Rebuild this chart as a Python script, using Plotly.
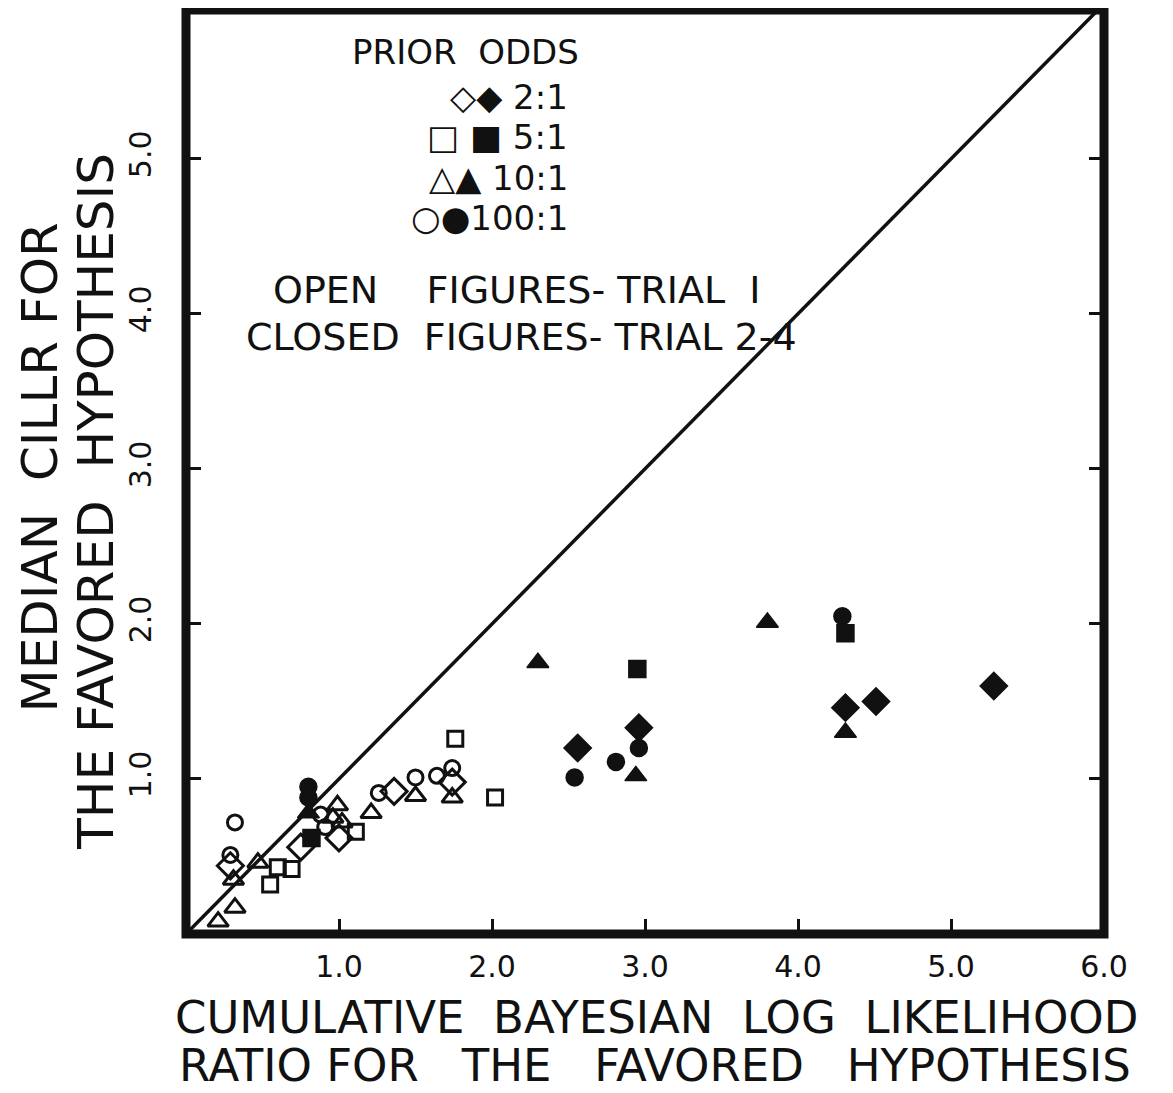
import plotly.graph_objects as go

FONT = "DejaVu Sans"
INK = "#111111"

# Trial 1 (open figures)
open_diamond_x = [0.29, 0.75, 1.00, 1.36, 1.74]
open_diamond_y = [0.44, 0.56, 0.62, 0.92, 0.98]

open_square_x = [0.55, 0.60, 0.69, 1.11, 1.76, 2.02]
open_square_y = [0.32, 0.43, 0.42, 0.66, 1.26, 0.88]

open_triangle_x = [0.21, 0.32, 0.31, 0.47, 0.96, 0.99, 1.02, 1.21, 1.50, 1.74]
open_triangle_y = [0.08, 0.17, 0.35, 0.46, 0.75, 0.83, 0.72, 0.78, 0.89, 0.88]

open_circle_x = [0.32, 0.29, 0.88, 0.91, 1.26, 1.50, 1.64, 1.74]
open_circle_y = [0.72, 0.51, 0.77, 0.69, 0.91, 1.01, 1.02, 1.07]

# Trials 2-4 (closed figures)
closed_diamond_x = [2.56, 2.96, 4.31, 4.51, 5.28]
closed_diamond_y = [1.20, 1.33, 1.46, 1.50, 1.60]

closed_square_x = [0.82, 2.95, 4.31]
closed_square_y = [0.62, 1.71, 1.94]

closed_triangle_x = [0.80, 2.30, 2.94, 3.80, 4.31]
closed_triangle_y = [0.78, 1.75, 1.02, 2.01, 1.30]

closed_circle_x = [0.80, 0.80, 2.54, 2.81, 2.96, 4.29]
closed_circle_y = [0.95, 0.88, 1.01, 1.11, 1.20, 2.05]

# identity line
line_x = [0, 6]
line_y = [0, 6]

tick_vals_x = [1, 2, 3, 4, 5, 6]
tick_text_x = ["1.0", "2.0", "3.0", "4.0", "5.0", "6.0"]
tick_vals_y = [1, 2, 3, 4, 5]
tick_text_y = ["1.0", "2.0", "3.0", "4.0", "5.0"]

fig = go.Figure()

fig.add_trace(go.Scatter(x=line_x, y=line_y, mode="lines",
                         line=dict(color=INK, width=3.5), hoverinfo="skip"))

def add_points(xs, ys, symbol, size, filled):
    if filled:
        marker = dict(symbol=symbol, size=size, color=INK, line=dict(color=INK, width=1.5))
    else:
        marker = dict(symbol=symbol + "-open", size=size, color=INK, line=dict(color=INK, width=3))
    fig.add_trace(go.Scatter(x=xs, y=ys, mode="markers", marker=marker))

add_points(open_diamond_x, open_diamond_y, "diamond", 20, False)
add_points(open_square_x, open_square_y, "square", 15, False)
add_points(open_triangle_x, open_triangle_y, "triangle-up", 18, False)
add_points(open_circle_x, open_circle_y, "circle", 15, False)
add_points(closed_diamond_x, closed_diamond_y, "diamond", 21, True)
add_points(closed_square_x, closed_square_y, "square", 17, True)
add_points(closed_triangle_x, closed_triangle_y, "triangle-up", 19, True)
add_points(closed_circle_x, closed_circle_y, "circle", 17, True)

# in-plot key, written as text
key_rows = ["◇◆ 2:1", "□ ■ 5:1", "△▲ 10:1", "○●100:1"]
key_y = [0.906, 0.863, 0.818, 0.775]

ann = [dict(text="PRIOR  ODDS", x=0.304, y=0.955, font=dict(size=34))]
for txt, yy in zip(key_rows, key_y):
    ann.append(dict(text=txt, x=0.418, y=yy, xanchor="right", font=dict(size=34)))
ann += [
    dict(text="OPEN    FIGURES- TRIAL  I", x=0.361, y=0.697, font=dict(size=38)),
    dict(text="CLOSED  FIGURES- TRIAL 2-4", x=0.366, y=0.646, font=dict(size=38)),
    dict(text="CUMULATIVE  BAYESIAN  LOG  LIKELIHOOD", x=0.513, y=-0.090, font=dict(size=45)),
    dict(text="RATIO FOR   THE   FAVORED   HYPOTHESIS", x=0.511, y=-0.142, font=dict(size=45)),
    dict(text="MEDIAN  CILLR FOR", x=-0.159, y=0.505, textangle=-90, font=dict(size=50)),
    dict(text="THE FAVORED  HYPOTHESIS", x=-0.099, y=0.468, textangle=-90, font=dict(size=50)),
]
for a in ann:
    a.update(xref="paper", yref="paper", showarrow=False, yanchor="middle")
    a.setdefault("xanchor", "center")
    a["font"].update(family=FONT, color=INK)

fig.update_layout(
    width=1173, height=1093,
    # page body adds 8px, so margins are shifted by that much
    margin=dict(l=178, r=77, t=2, b=167),
    paper_bgcolor="white", plot_bgcolor="white",
    showlegend=False,
    font=dict(family=FONT, color=INK),
    annotations=ann,
    shapes=[dict(type="rect", xref="paper", yref="paper", x0=0, y0=0, x1=1, y1=1,
                 line=dict(color=INK, width=9), layer="above")],
)
fig.update_xaxes(range=[0, 6], showgrid=False, zeroline=False,
                 showline=True, linewidth=1, linecolor=INK, mirror=True,
                 ticks="inside", ticklen=15, tickwidth=3, tickcolor=INK,
                 tickvals=tick_vals_x, ticktext=tick_text_x,
                 tickfont=dict(size=30, family=FONT, color=INK), ticklabelstandoff=6)
fig.update_yaxes(range=[0, 5.96], showgrid=False, zeroline=False,
                 showline=True, linewidth=1, linecolor=INK, mirror="ticks",
                 ticks="inside", ticklen=15, tickwidth=3, tickcolor=INK,
                 tickvals=tick_vals_y, ticktext=tick_text_y, tickangle=-90,
                 tickfont=dict(size=30, family=FONT, color=INK), ticklabelstandoff=22)

fig.write_html("out.html")
